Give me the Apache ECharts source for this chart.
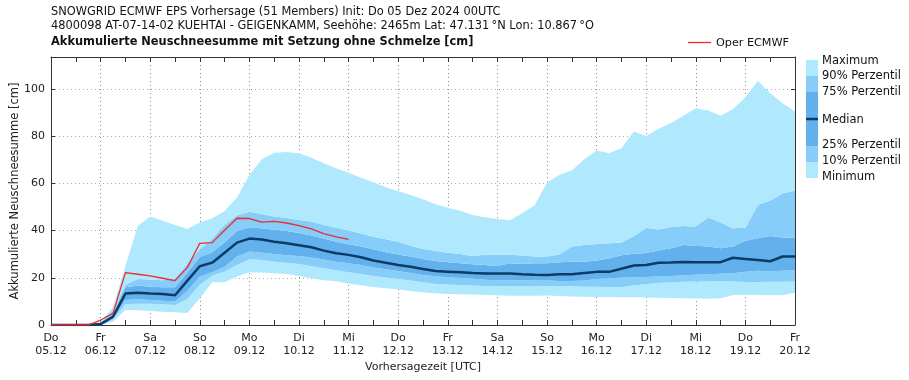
<!DOCTYPE html>
<html><head><meta charset="utf-8">
<script src="https://cdn.jsdelivr.net/npm/echarts@6/dist/echarts.min.js"></script>
<style>html,body{margin:0;padding:0;background:#fff}#c{width:909px;height:380px}</style>
</head><body><div id="c"></div>
<script>
// ---- tick labels ----
const dayNames = ['Do','Fr','Sa','So','Mo','Di','Mi','Do','Fr','Sa','So','Mo','Di','Mi','Do','Fr'];
const dayDates = ['05.12','06.12','07.12','08.12','09.12','10.12','11.12','12.12','13.12','14.12','15.12','16.12','17.12','18.12','19.12','20.12'];
const hoursOfDay = ['00','06','12','18'];
const yTicks = [0,20,40,60,80,100];

// ---- series values (6-hourly, 05.12 00UTC .. 20.12 00UTC) ----
const maximum = [0,0,0,0,1.5,7.5,25,42,46,44.2,42.3,40.7,43.4,45.2,48.3,54,63.5,70.2,72.9,73.3,72.7,70.8,68.5,66.4,64.5,62.4,60.5,58.3,56.8,55.1,53.3,51.1,49.7,48.4,46.6,45.6,44.9,44.4,47.3,50.7,60.2,63.6,65.4,70.2,73.9,72.7,74.9,81.9,80.0,83.1,85.6,88.6,91.8,90.8,88.6,91.5,96.3,103.4,98.2,93.9,90.4];
const p90 = [0,0,0,0,1.0,6.0,17,19.5,19.3,19,19.8,26,32,36.5,42.5,46.5,48.0,47,46,45.3,44.5,43.8,42.4,41.2,40.0,38.8,37.4,36.3,35.3,33.6,32.2,31.4,30.6,30.1,29.2,29.7,29.9,29.7,29.4,29.0,29.0,29.9,33.2,33.9,34.3,34.6,34.9,37.6,41.2,40.4,41.5,41.9,41.7,45.5,43.4,41.0,41.2,50.8,52.7,55.8,56.9];
const p75 = [0,0,0,0,0.6,4.5,16,16.7,16.2,16.0,16.0,22.2,28.8,30.8,35.0,39.8,41.4,41.0,40.3,39.8,39.0,37.9,36.6,35.3,34.2,33.2,32.1,30.8,29.9,29.0,28.0,27.1,26.6,26.1,25.7,25.4,25.0,26.1,25.8,26.1,26.1,26.6,26.8,26.8,27.3,28.2,29.5,30.2,30.5,31.5,32.5,33.9,33.6,33.2,32.5,33.2,35.7,36.7,37.7,37.1,37.0];
const median = [0,0,0,0,0.4,3.5,13.3,13.7,13.3,13.1,12.6,18.8,24.9,26.4,30.6,34.9,36.6,36.2,35.3,34.6,33.8,32.9,31.5,30.4,29.7,28.7,27.3,26.4,25.4,24.7,23.7,22.9,22.6,22.3,22.0,21.8,21.8,21.8,21.5,21.3,21.2,21.5,21.5,22.0,22.5,22.5,23.8,25.2,25.4,26.4,26.5,26.7,26.6,26.6,26.6,28.5,28.0,27.5,27.0,29.0,29.0];
const p25 = [0,0,0,0,0.2,2.8,10.6,10.9,10.6,10.3,9.9,14.5,20.5,22.3,24.7,29.0,31.1,30.6,30.1,29.5,29.2,28.6,27.7,26.8,26.1,25.4,24.4,23.6,22.9,22.0,21.2,20.6,20.2,19.9,19.6,19.2,19.0,19.0,19.0,18.8,18.8,18.6,18.6,18.8,19.5,19.8,20.0,20.2,20.3,20.6,20.8,21.1,21.3,21.5,21.7,21.9,22.5,23.0,22.7,23.0,23.2];
const p10 = [0,0,0,0,0,2.2,8.8,9.0,9.0,8.8,8.5,11.0,17.0,21.0,22.5,25.4,27.8,27.5,26.8,26.4,25.8,24.9,24.0,23.2,22.3,21.6,20.8,20.1,19.5,18.8,18.1,17.4,17.1,16.9,16.7,16.5,16.5,16.4,16.4,16.4,16.5,16.4,16.4,16.2,16.2,16.1,16.0,16.8,17.3,17.9,18.0,18.3,18.4,18.4,18.5,18.4,18.2,18.2,18.3,18.3,18.4];
const minimum = [0,0,0,0,0,1.4,6.4,6.2,5.9,5.6,5.4,5.1,11.3,18.1,18.1,20.5,22.3,22.2,21.9,21.6,20.8,19.8,19.0,18.5,17.5,16.8,16.1,15.6,15.1,14.4,13.8,13.4,13.1,13.0,12.9,12.7,12.6,12.4,12.4,12.4,12.5,12.3,12.1,12.0,11.9,11.9,11.8,11.7,11.6,11.5,11.4,11.3,11.2,11.1,11.3,12.7,12.7,12.7,12.6,12.6,13.7];
const operEcmwf = [0,0,0,0,2.1,4.9,22.2,21.5,20.8,19.8,18.8,24.4,34.6,34.9,40.1,45.2,45.1,43.6,43.9,43.2,42.1,40.7,38.7,37.3,36.3];

// ---- build categories ----
const categories = [];
for (let d = 0; d < dayDates.length; d++) {
  for (let h = 0; h < hoursOfDay.length; h++) {
    if (d === dayDates.length - 1 && h > 0) break;
    categories.push(dayDates[d] + ' ' + hoursOfDay[h]);
  }
}

const C_LIGHT = '#b0e9fd';
const C_MID = '#87cdfa';
const C_DARK = '#63b1ec';
const C_MED = '#0c3b66';
const C_RED = '#ee2a2a';

function diff(a, b) { return a.map((v, i) => +(v - b[i]).toFixed(2)); }
function band(name, data, color) {
  return { name, type: 'line', stack: 'b', data, symbol: 'none', silent: true,
    lineStyle: { width: 0 }, areaStyle: { color, opacity: 1 }, z: 1 };
}

const FONT = '"DejaVu Sans"';

const chart = echarts.init(document.getElementById('c'), null, { renderer: 'canvas' });
const yMax = 113.5;
const option = {
  animation: false,
  grid: { left: 51, right: 114, top: 57, bottom: 55, containLabel: false, outerBoundsMode: 'none' },
  xAxis: [
    { type: 'category', data: categories, boundaryGap: false, position: 'bottom',
      axisLine: { onZero: false, lineStyle: { color: '#333', width: 1 } },
      axisTick: { inside: true, interval: 1, length: 5, lineStyle: { color: '#333' } },
      axisLabel: { interval: 3, color: '#222', fontFamily: FONT, fontSize: 11, lineHeight: 13, margin: 7,
        formatter: (v, i) => { const d = Math.round(i / 4); return dayNames[d] + '\n' + dayDates[d]; } },
      splitLine: { show: true, interval: 3, lineStyle: { color: '#888', type: [1, 3], width: 1 } },
      name: 'Vorhersagezeit [UTC]', nameLocation: 'middle', nameGap: 37, nameMoveOverlap: false,
      nameTextStyle: { fontFamily: FONT, fontSize: 11, color: '#222' } },
    { type: 'category', data: categories, boundaryGap: false, position: 'top',
      axisLine: { onZero: false, lineStyle: { color: '#333', width: 1 } },
      axisTick: { inside: true, interval: 1, length: 5, lineStyle: { color: '#333' } },
      axisLabel: { show: false }, splitLine: { show: false } }
  ],
  yAxis: [
    { type: 'value', min: 0, max: yMax, interval: 20, position: 'left',
      axisLine: { show: true, onZero: false, lineStyle: { color: '#333' } },
      axisTick: { show: true, inside: true, length: 4, lineStyle: { color: '#333' } },
      axisLabel: { color: '#222', fontFamily: FONT, fontSize: 11, margin: 6,
        formatter: v => (yTicks.indexOf(v) >= 0 ? String(v) : '') },
      splitLine: { show: true, lineStyle: { color: '#aaa', type: [1, 3], width: 1 } },
      name: 'Akkumulierte Neuschneesumme [cm]', nameLocation: 'middle', nameGap: 30, nameMoveOverlap: false,
      nameTextStyle: { fontFamily: FONT, fontSize: 11.5, color: '#222' } },
    { type: 'value', min: 0, max: yMax, interval: 20, position: 'right',
      axisLine: { show: true, onZero: false, lineStyle: { color: '#333' } },
      axisTick: { show: true, inside: true, length: 4, lineStyle: { color: '#333' } },
      axisLabel: { show: false }, splitLine: { show: false } }
  ],
  series: [
    { name: 'base', type: 'line', stack: 'b', data: minimum, symbol: 'none', silent: true,
      lineStyle: { width: 0 }, z: 1 },
    band('Minimum', diff(p10, minimum), C_LIGHT),
    band('10% Perzentil', diff(p25, p10), C_MID),
    band('25% Perzentil', diff(p75, p25), C_DARK),
    band('75% Perzentil', diff(p90, p75), C_MID),
    band('Maximum', diff(maximum, p90), C_LIGHT),
    { name: 'Median', type: 'line', data: median, symbol: 'none', z: 5,
      lineStyle: { color: C_MED, width: 2.5 } },
    { name: 'Oper ECMWF', type: 'line', data: operEcmwf, symbol: 'none', z: 6,
      lineStyle: { color: C_RED, width: 1.3 } }
  ],
  graphic: [
    { type: 'text', x: 51, y: 12, style: { text: 'SNOWGRID ECMWF EPS Vorhersage (51 Members) Init: Do 05 Dez 2024 00UTC', font: '11.4px ' + FONT, fill: '#111', verticalAlign: 'middle' } },
    { type: 'text', x: 51, y: 26.5, style: { text: '4800098 AT-07-14-02 KUEHTAI - GEIGENKAMM, Seehöhe: 2465m Lat: 47.131\u2009°N Lon: 10.867\u2009°O', font: '11.4px ' + FONT, fill: '#111', verticalAlign: 'middle' } },
    { type: 'text', x: 51, y: 42.5, style: { text: 'Akkumulierte Neuschneesumme mit Setzung ohne Schmelze [cm]', font: 'bold 11.4px ' + FONT, fill: '#111', verticalAlign: 'middle' } },
    { type: 'line', shape: { x1: 688, y1: 42.5, x2: 711, y2: 42.5 }, style: { stroke: C_RED, lineWidth: 1.3 } },
    { type: 'text', x: 716, y: 43, style: { text: 'Oper ECMWF', font: '11.2px ' + FONT, fill: '#111', verticalAlign: 'middle' } },
    // right legend
    { type: 'rect', shape: { x: 806, y: 60, width: 12, height: 16 }, style: { fill: C_LIGHT } },
    { type: 'rect', shape: { x: 806, y: 76, width: 12, height: 16 }, style: { fill: C_MID } },
    { type: 'rect', shape: { x: 806, y: 92, width: 12, height: 26 }, style: { fill: C_DARK } },
    { type: 'rect', shape: { x: 806, y: 120, width: 12, height: 26 }, style: { fill: C_DARK } },
    { type: 'rect', shape: { x: 806, y: 146, width: 12, height: 16 }, style: { fill: C_MID } },
    { type: 'rect', shape: { x: 806, y: 162, width: 12, height: 16 }, style: { fill: C_LIGHT } },
    { type: 'line', shape: { x1: 806, y1: 119, x2: 818, y2: 119 }, style: { stroke: C_MED, lineWidth: 2.5 } },
    { type: 'text', x: 822, y: 61, style: { text: 'Maximum', font: '11.5px ' + FONT, fill: '#111', verticalAlign: 'middle' } },
    { type: 'text', x: 822, y: 76.5, style: { text: '90% Perzentil', font: '11.5px ' + FONT, fill: '#111', verticalAlign: 'middle' } },
    { type: 'text', x: 822, y: 92, style: { text: '75% Perzentil', font: '11.5px ' + FONT, fill: '#111', verticalAlign: 'middle' } },
    { type: 'text', x: 822, y: 120, style: { text: 'Median', font: '11.5px ' + FONT, fill: '#111', verticalAlign: 'middle' } },
    { type: 'text', x: 822, y: 145, style: { text: '25% Perzentil', font: '11.5px ' + FONT, fill: '#111', verticalAlign: 'middle' } },
    { type: 'text', x: 822, y: 161, style: { text: '10% Perzentil', font: '11.5px ' + FONT, fill: '#111', verticalAlign: 'middle' } },
    { type: 'text', x: 822, y: 177, style: { text: 'Minimum', font: '11.5px ' + FONT, fill: '#111', verticalAlign: 'middle' } }
  ]
};
chart.setOption(option);
</script>
</body></html>
